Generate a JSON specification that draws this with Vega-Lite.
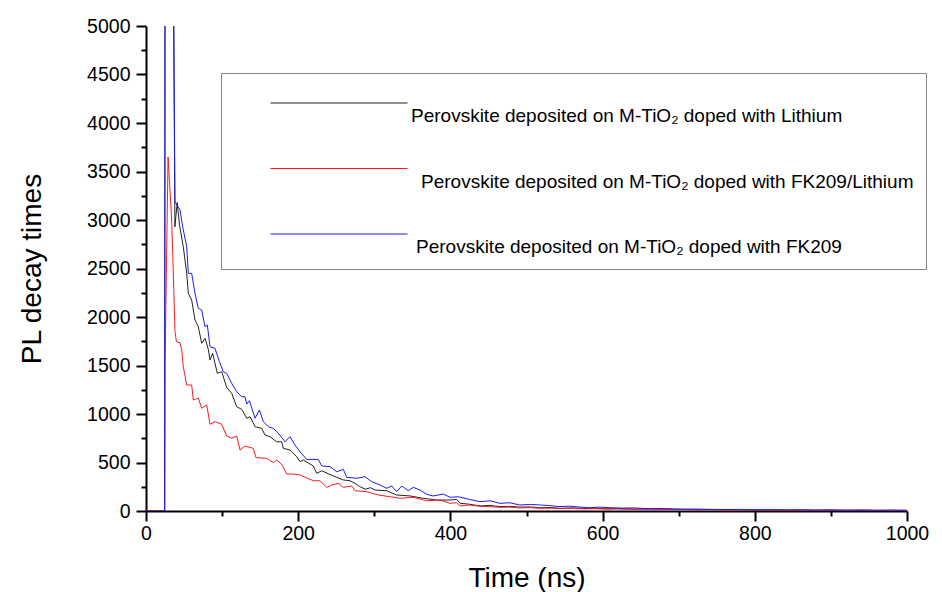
{
"$schema":"https://vega.github.io/schema/vega-lite/v6.json",
"width":761,"height":485,
"autosize":{"type":"none"},
"padding":{"left":146,"top":26,"right":35,"bottom":81},
"background":"white",
"config":{"view":{"stroke":null},"font":"Liberation Sans"},
"datasets":{"names":[
{"s":"Li","name":"Perovskite deposited on M-TiO₂ doped with Lithium"},
{"s":"FKLi","name":"Perovskite deposited on M-TiO₂ doped with FK209/Lithium"},
{"s":"FK","name":"Perovskite deposited on M-TiO₂ doped with FK209"}]},
"data":{"values":[
{"s":"Li","t":0,"v":0},{"s":"Li","t":24.5,"v":0},{"s":"Li","t":25,"v":5600},{"s":"Li","t":36,"v":5600},{"s":"Li","t":38,"v":2930},{"s":"Li","t":41,"v":3180},{"s":"Li","t":44,"v":2950},{"s":"Li","t":49,"v":2725},{"s":"Li","t":53.5,"v":2450},{"s":"Li","t":55.6,"v":2244},{"s":"Li","t":60,"v":2175},{"s":"Li","t":64.4,"v":1969},{"s":"Li","t":68.7,"v":1900},{"s":"Li","t":73.2,"v":1729},{"s":"Li","t":77.6,"v":1780},{"s":"Li","t":81.9,"v":1667},{"s":"Li","t":84.1,"v":1557},{"s":"Li","t":87.6,"v":1626},{"s":"Li","t":93.7,"v":1419},{"s":"Li","t":99.5,"v":1436},{"s":"Li","t":106,"v":1275},{"s":"Li","t":112.6,"v":1213},{"s":"Li","t":119.2,"v":1075},{"s":"Li","t":125.8,"v":1048},{"s":"Li","t":132.4,"v":956},{"s":"Li","t":136.7,"v":972},{"s":"Li","t":143.3,"v":869},{"s":"Li","t":152,"v":852},{"s":"Li","t":156.4,"v":783},{"s":"Li","t":163,"v":766},{"s":"Li","t":171.7,"v":714},{"s":"Li","t":178.3,"v":714},{"s":"Li","t":180.5,"v":646},{"s":"Li","t":189.2,"v":629},{"s":"Li","t":198,"v":560},{"s":"Li","t":202.4,"v":509},{"s":"Li","t":206.7,"v":526},{"s":"Li","t":219.8,"v":464},{"s":"Li","t":224.3,"v":388},{"s":"Li","t":230.9,"v":415},{"s":"Li","t":246.1,"v":361},{"s":"Li","t":259.3,"v":320},{"s":"Li","t":268.1,"v":312},{"s":"Li","t":274.6,"v":285},{"s":"Li","t":281,"v":251},{"s":"Li","t":288,"v":225},{"s":"Li","t":295,"v":240},{"s":"Li","t":301,"v":216},{"s":"Li","t":316.3,"v":209},{"s":"Li","t":329.4,"v":165},{"s":"Li","t":346.9,"v":155},{"s":"Li","t":364.4,"v":131},{"s":"Li","t":382,"v":113},{"s":"Li","t":399.5,"v":113},{"s":"Li","t":408.3,"v":120},{"s":"Li","t":412.6,"v":80},{"s":"Li","t":425,"v":70},{"s":"Li","t":439,"v":52},{"s":"Li","t":452,"v":58},{"s":"Li","t":465,"v":45},{"s":"Li","t":478,"v":48},{"s":"Li","t":491,"v":40},{"s":"Li","t":505,"v":42},{"s":"Li","t":518,"v":34},{"s":"Li","t":531,"v":36},{"s":"Li","t":544,"v":28},{"s":"Li","t":560,"v":32},{"s":"Li","t":575,"v":26},{"s":"Li","t":590,"v":28},{"s":"Li","t":605,"v":23},{"s":"Li","t":620,"v":25},{"s":"Li","t":640,"v":20},{"s":"Li","t":660,"v":21},{"s":"Li","t":680,"v":17},{"s":"Li","t":700,"v":18},{"s":"Li","t":720,"v":14},{"s":"Li","t":740,"v":15},{"s":"Li","t":760,"v":12},{"s":"Li","t":780,"v":13},{"s":"Li","t":800,"v":10},{"s":"Li","t":820,"v":11},{"s":"Li","t":840,"v":9},{"s":"Li","t":860,"v":10},{"s":"Li","t":880,"v":8},{"s":"Li","t":900,"v":9},{"s":"Li","t":920,"v":7},{"s":"Li","t":940,"v":8},{"s":"Li","t":960,"v":6},{"s":"Li","t":980,"v":7},{"s":"Li","t":1000,"v":6},
{"s":"FKLi","t":0,"v":0},{"s":"FKLi","t":24.5,"v":0},{"s":"FKLi","t":25,"v":1500},{"s":"FKLi","t":27,"v":2600},{"s":"FKLi","t":29,"v":3650},{"s":"FKLi","t":31,"v":3380},{"s":"FKLi","t":33.5,"v":3030},{"s":"FKLi","t":35,"v":2690},{"s":"FKLi","t":36.5,"v":2280},{"s":"FKLi","t":38.1,"v":1850},{"s":"FKLi","t":40,"v":1745},{"s":"FKLi","t":44.7,"v":1735},{"s":"FKLi","t":47,"v":1660},{"s":"FKLi","t":49,"v":1488},{"s":"FKLi","t":53.5,"v":1299},{"s":"FKLi","t":60,"v":1299},{"s":"FKLi","t":62.2,"v":1144},{"s":"FKLi","t":68.7,"v":1165},{"s":"FKLi","t":73.2,"v":1059},{"s":"FKLi","t":79.8,"v":1093},{"s":"FKLi","t":84.1,"v":894},{"s":"FKLi","t":90.7,"v":921},{"s":"FKLi","t":99.5,"v":894},{"s":"FKLi","t":106,"v":773},{"s":"FKLi","t":112.6,"v":750},{"s":"FKLi","t":119.2,"v":773},{"s":"FKLi","t":123.5,"v":629},{"s":"FKLi","t":130.1,"v":670},{"s":"FKLi","t":141,"v":646},{"s":"FKLi","t":144.5,"v":550},{"s":"FKLi","t":158.6,"v":543},{"s":"FKLi","t":167.3,"v":498},{"s":"FKLi","t":171.7,"v":526},{"s":"FKLi","t":178.3,"v":481},{"s":"FKLi","t":184.9,"v":381},{"s":"FKLi","t":193.6,"v":381},{"s":"FKLi","t":202.4,"v":371},{"s":"FKLi","t":219.8,"v":312},{"s":"FKLi","t":228.6,"v":312},{"s":"FKLi","t":237.5,"v":244},{"s":"FKLi","t":244,"v":268},{"s":"FKLi","t":252.7,"v":285},{"s":"FKLi","t":259.3,"v":244},{"s":"FKLi","t":270.2,"v":258},{"s":"FKLi","t":274.6,"v":209},{"s":"FKLi","t":290,"v":199},{"s":"FKLi","t":305.3,"v":165},{"s":"FKLi","t":320.6,"v":147},{"s":"FKLi","t":333.8,"v":131},{"s":"FKLi","t":351.2,"v":141},{"s":"FKLi","t":368.9,"v":106},{"s":"FKLi","t":386.3,"v":113},{"s":"FKLi","t":399.5,"v":79},{"s":"FKLi","t":408.3,"v":86},{"s":"FKLi","t":412.6,"v":52},{"s":"FKLi","t":425,"v":62},{"s":"FKLi","t":439,"v":48},{"s":"FKLi","t":452,"v":44},{"s":"FKLi","t":465,"v":38},{"s":"FKLi","t":478,"v":40},{"s":"FKLi","t":491,"v":32},{"s":"FKLi","t":505,"v":34},{"s":"FKLi","t":518,"v":28},{"s":"FKLi","t":531,"v":30},{"s":"FKLi","t":544,"v":25},{"s":"FKLi","t":560,"v":27},{"s":"FKLi","t":575,"v":22},{"s":"FKLi","t":590,"v":24},{"s":"FKLi","t":605,"v":20},{"s":"FKLi","t":620,"v":21},{"s":"FKLi","t":640,"v":18},{"s":"FKLi","t":660,"v":19},{"s":"FKLi","t":680,"v":15},{"s":"FKLi","t":700,"v":16},{"s":"FKLi","t":720,"v":13},{"s":"FKLi","t":740,"v":14},{"s":"FKLi","t":760,"v":11},{"s":"FKLi","t":780,"v":12},{"s":"FKLi","t":800,"v":10},{"s":"FKLi","t":820,"v":10},{"s":"FKLi","t":840,"v":8},{"s":"FKLi","t":860,"v":9},{"s":"FKLi","t":880,"v":7},{"s":"FKLi","t":900,"v":8},{"s":"FKLi","t":920,"v":6},{"s":"FKLi","t":940,"v":7},{"s":"FKLi","t":960,"v":6},{"s":"FKLi","t":980,"v":6},{"s":"FKLi","t":1000,"v":5},
{"s":"FK","t":0,"v":0},{"s":"FK","t":24.5,"v":0},{"s":"FK","t":25,"v":5600},{"s":"FK","t":36,"v":5600},{"s":"FK","t":38.1,"v":3189},{"s":"FK","t":41,"v":3150},{"s":"FK","t":44.7,"v":3103},{"s":"FK","t":48.2,"v":2931},{"s":"FK","t":53.5,"v":2725},{"s":"FK","t":55.6,"v":2450},{"s":"FK","t":60,"v":2450},{"s":"FK","t":64.4,"v":2244},{"s":"FK","t":68.7,"v":2090},{"s":"FK","t":73.2,"v":2072},{"s":"FK","t":77.5,"v":1900},{"s":"FK","t":80.6,"v":1918},{"s":"FK","t":84.1,"v":1694},{"s":"FK","t":90.7,"v":1677},{"s":"FK","t":96.4,"v":1540},{"s":"FK","t":101.6,"v":1436},{"s":"FK","t":106,"v":1419},{"s":"FK","t":112.6,"v":1316},{"s":"FK","t":119.2,"v":1230},{"s":"FK","t":125.8,"v":1178},{"s":"FK","t":130.1,"v":1178},{"s":"FK","t":132.4,"v":1103},{"s":"FK","t":135.9,"v":1137},{"s":"FK","t":143.3,"v":956},{"s":"FK","t":149,"v":1041},{"s":"FK","t":154.2,"v":921},{"s":"FK","t":160.8,"v":869},{"s":"FK","t":167.3,"v":852},{"s":"FK","t":173.9,"v":801},{"s":"FK","t":182.7,"v":714},{"s":"FK","t":189.2,"v":766},{"s":"FK","t":195.8,"v":680},{"s":"FK","t":202.4,"v":611},{"s":"FK","t":211.2,"v":532},{"s":"FK","t":226.4,"v":532},{"s":"FK","t":230.9,"v":464},{"s":"FK","t":241.8,"v":457},{"s":"FK","t":250.6,"v":405},{"s":"FK","t":259.3,"v":430},{"s":"FK","t":263.7,"v":347},{"s":"FK","t":276.9,"v":337},{"s":"FK","t":287.7,"v":354},{"s":"FK","t":296.6,"v":302},{"s":"FK","t":307.5,"v":268},{"s":"FK","t":316.3,"v":234},{"s":"FK","t":322.9,"v":258},{"s":"FK","t":329.4,"v":199},{"s":"FK","t":336,"v":258},{"s":"FK","t":344.7,"v":209},{"s":"FK","t":351.2,"v":244},{"s":"FK","t":360,"v":216},{"s":"FK","t":368.9,"v":172},{"s":"FK","t":377.5,"v":155},{"s":"FK","t":390.7,"v":175},{"s":"FK","t":399.5,"v":141},{"s":"FK","t":410.4,"v":147},{"s":"FK","t":425,"v":120},{"s":"FK","t":439,"v":96},{"s":"FK","t":452,"v":105},{"s":"FK","t":465,"v":79},{"s":"FK","t":478,"v":85},{"s":"FK","t":491,"v":62},{"s":"FK","t":505,"v":68},{"s":"FK","t":518,"v":62},{"s":"FK","t":531,"v":55},{"s":"FK","t":544,"v":45},{"s":"FK","t":557,"v":50},{"s":"FK","t":570,"v":40},{"s":"FK","t":583,"v":34},{"s":"FK","t":596,"v":40},{"s":"FK","t":610,"v":34},{"s":"FK","t":625,"v":30},{"s":"FK","t":640,"v":32},{"s":"FK","t":660,"v":24},{"s":"FK","t":680,"v":26},{"s":"FK","t":700,"v":19},{"s":"FK","t":720,"v":20},{"s":"FK","t":741,"v":17},{"s":"FK","t":760,"v":15},{"s":"FK","t":780,"v":16},{"s":"FK","t":800,"v":13},{"s":"FK","t":820,"v":14},{"s":"FK","t":840,"v":11},{"s":"FK","t":860,"v":12},{"s":"FK","t":880,"v":10},{"s":"FK","t":900,"v":11},{"s":"FK","t":920,"v":9},{"s":"FK","t":940,"v":10},{"s":"FK","t":960,"v":8},{"s":"FK","t":980,"v":9},{"s":"FK","t":1000,"v":8}
]},
"transform":[{"lookup":"s","from":{"data":{"name":"names"},"key":"s","fields":["name"]}}],
"mark":{"type":"line","strokeWidth":1,"clip":true},
"encoding":{
"x":{"field":"t","type":"quantitative","scale":{"domain":[0,1000],"nice":false},
"axis":{"title":"Time (ns)","values":[0,100,200,300,400,500,600,700,800,900,1000],"format":"d","labelExpr":"datum.value % 200 === 0 ? datum.label : ''","grid":false,"domainColor":"black","domainWidth":2,"tickColor":"black","tickWidth":2,"tickSize":{"condition":{"test":"datum.value % 200 !== 0","value":5},"value":10},"labelFontSize":19.5,"labelColor":"black","labelPadding":3,"labelFlush":false,"titleFontSize":28,"titleFontWeight":"normal","titleColor":"black","titlePadding":22}},
"y":{"field":"v","type":"quantitative","scale":{"domain":[0,5000],"nice":false},
"axis":{"title":"PL decay times","values":[0,250,500,750,1000,1250,1500,1750,2000,2250,2500,2750,3000,3250,3500,3750,4000,4250,4500,4750,5000],"format":"d","labelExpr":"datum.value % 500 === 0 ? datum.label : ''","grid":false,"domainColor":"black","domainWidth":2,"tickColor":"black","tickWidth":2,"tickSize":{"condition":{"test":"datum.value % 500 !== 0","value":5},"value":10},"labelFontSize":19.5,"labelColor":"black","labelPadding":6,"labelFlush":false,"titleFontSize":28,"titleFontWeight":"normal","titleColor":"black","titlePadding":40}},
"color":{"field":"name","type":"nominal",
"scale":{"domain":["Perovskite deposited on M-TiO₂ doped with Lithium","Perovskite deposited on M-TiO₂ doped with FK209/Lithium","Perovskite deposited on M-TiO₂ doped with FK209"],"range":["#222222","#ff1a1a","#1a1aff"]},
"legend":{"orient":"none","legendX":75,"legendY":47,"title":null,"symbolType":"stroke","symbolSize":18769,"symbolStrokeWidth":1,"clipHeight":36,"rowPadding":24.5,"padding":12,"symbolOffset":37,"labelOffset":3,"labelFontSize":19,"labelColor":"black","labelLimit":0,"strokeColor":"#888888","fillColor":"white",
"encode":{"symbols":{"enter":{"stroke":{"signal":"scale('color', datum.value)"}},"update":{"stroke":{"signal":"scale('color', datum.value)"}}},"labels":{"update":{"dy":{"value":13},"dx":{"signal":"datum.index === 1 ? 10 : (datum.index === 2 ? 5 : 0)"}}}}}}
}
}
